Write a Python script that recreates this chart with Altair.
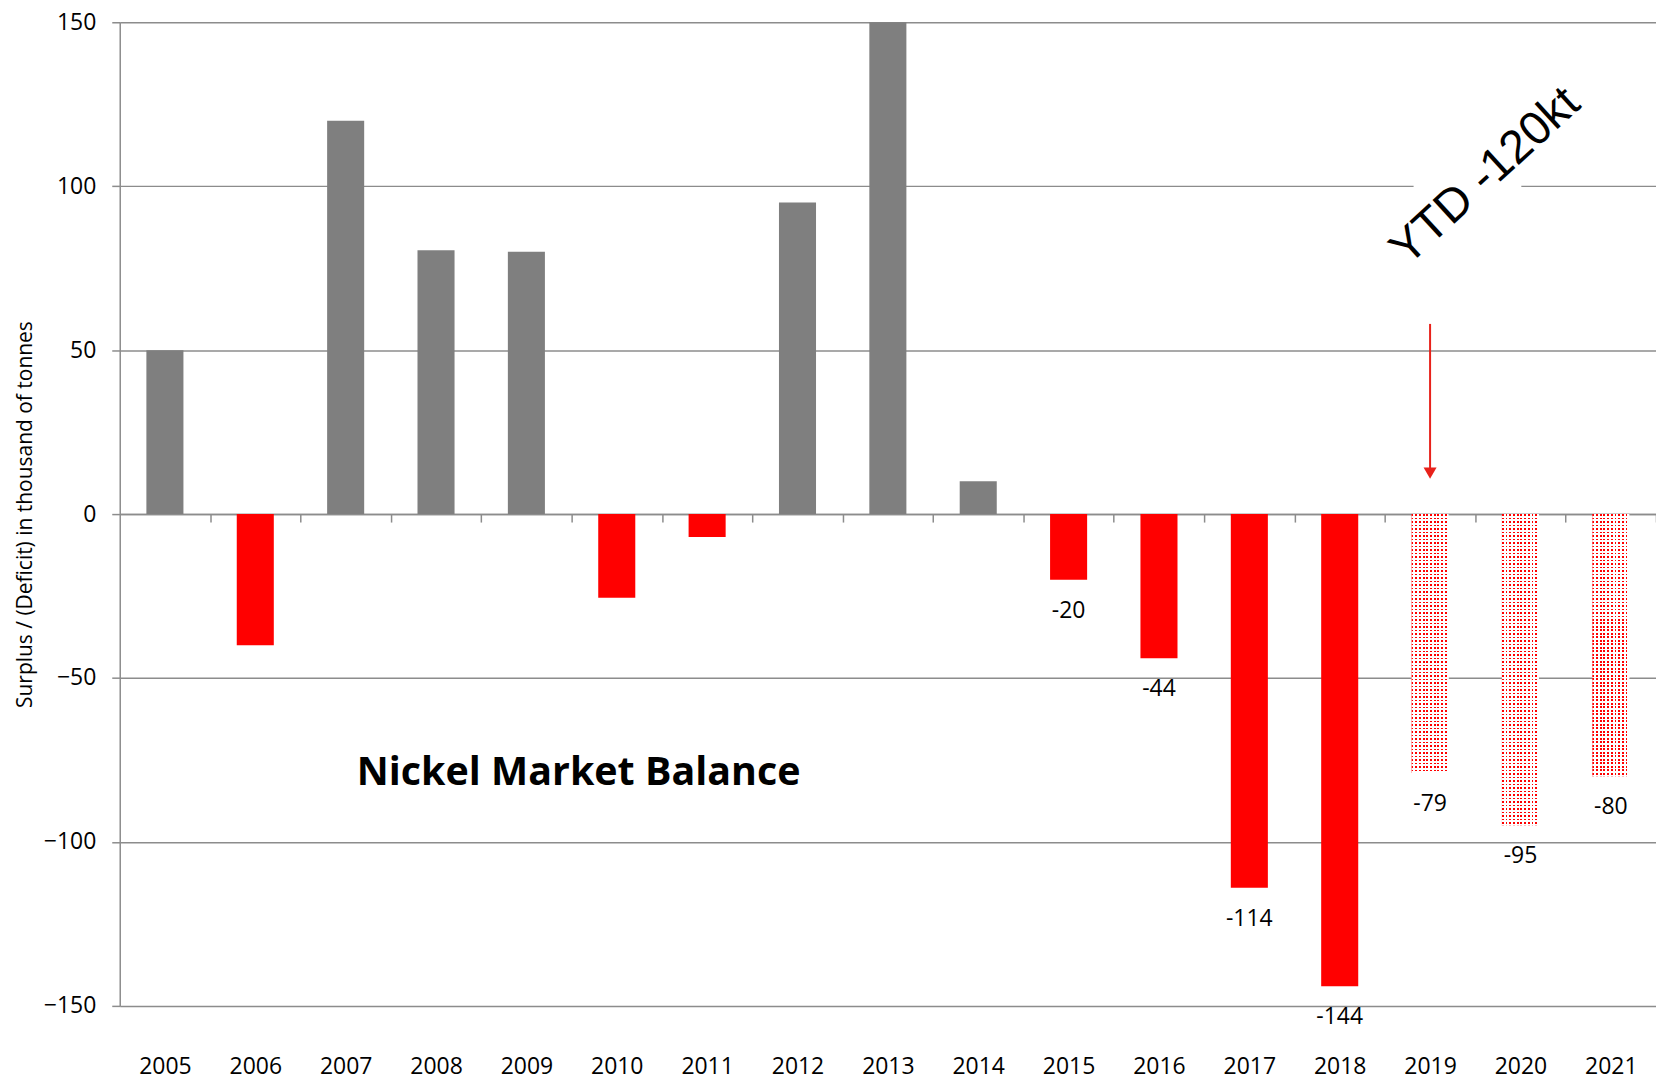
import altair as alt
import pandas as pd

years = [str(y) for y in range(2005, 2022)]
values = [50, -40, 120, 80.5, 80, -25.5, -7, 95, 150, 10, -20, -44, -114, -144, -79, -95, -80]
kinds = ["surplus", "deficit", "surplus", "surplus", "surplus", "deficit", "deficit",
         "surplus", "surplus", "surplus", "deficit", "deficit", "deficit", "deficit",
         "forecast", "forecast", "forecast"]
labels = ["", "", "", "", "", "", "", "", "", "", "-20", "-44", "-114", "-144", "-79", "-95", "-80"]
y_ticks = [-150, -100, -50, 0, 50, 100, 150]

title_text = "Nickel Market Balance"
ytd_text = "YTD -120kt"
y_title = "Surplus / (Deficit) in thousand of tonnes"

W, H = 1540, 986
STEP = W / len(years)
GRID = "#8c8c8c"
RED = "#ff0000"
FONT = "Open Sans"

df = pd.DataFrame({"year": years, "value": values, "kind": kinds, "label": labels})

x_enc = alt.X(
    "year:N", sort=years, title=None,
    scale=alt.Scale(paddingInner=0.59, paddingOuter=0.295),
    axis=alt.Axis(orient="bottom", offset=-H / 2, domainColor=GRID, domainWidth=1.5,
                  tickColor=GRID, tickWidth=1.5, tickSize=8, tickOffset=STEP / 2,
                  labelOffset=-STEP / 2,
                  labelPadding=535, labelFont=FONT, labelFontSize=23, labelColor="black",
                  labelAngle=0, grid=False),
)
y_enc = alt.Y(
    "value:Q", title=y_title,
    scale=alt.Scale(domain=[-150, 150], nice=False, zero=False),
    axis=alt.Axis(values=y_ticks, grid=True, gridColor=GRID, gridWidth=1.5,
                  domainColor=GRID, domainWidth=1.5, tickColor=GRID, tickWidth=1.5,
                  tickSize=8, labelPadding=16, labelFont=FONT, labelFontSize=23,
                  labelColor="black", titleFont=FONT, titleFontSize=21,
                  titleFontWeight="normal", titleColor="black", titleAngle=270,
                  titleX=-94, titleY=H / 2, titleAlign="center", titleBaseline="middle"),
)


def stripes(n, ca, cb, frac, horizontal_bands):
    stops = []
    for i in range(n):
        a = i / n
        m = (i + frac) / n
        b = (i + 1) / n
        stops += [alt.GradientStop(color=ca, offset=a), alt.GradientStop(color=ca, offset=m),
                  alt.GradientStop(color=cb, offset=m), alt.GradientStop(color=cb, offset=b)]
    if horizontal_bands:
        return alt.LinearGradient(gradient="linear", stops=stops, x1=0, x2=0, y1=0, y2=1)
    return alt.LinearGradient(gradient="linear", stops=stops, x1=0, x2=1, y1=0, y2=0)


solid = alt.Chart(df).transform_filter(alt.datum.kind != "forecast").mark_bar().encode(
    x=x_enc, y=y_enc, y2=alt.Y2(datum=0),
    color=alt.Color("kind:N", scale=alt.Scale(domain=["surplus", "deficit"], range=["#7f7f7f", RED]), legend=None),
)

cols = alt.Chart(df).transform_filter(alt.datum.kind == "forecast").mark_bar(
    color=stripes(10, RED, "#ffffff", 0.5, False)
).encode(x=x_enc, y=y_enc, y2=alt.Y2(datum=0))

layers = [solid, cols]
for yr, v, k in zip(years, values, kinds):
    if k == "forecast":
        n = max(1, round(abs(v) * (H / 300) / 3.5))
        layers.append(
            alt.Chart(df).transform_filter(alt.datum.year == yr).mark_bar(
                color=stripes(n, "rgba(255,255,255,0)", "#ffffff", 0.5, True)
            ).encode(x=x_enc, y=y_enc, y2=alt.Y2(datum=0))
        )

value_labels = alt.Chart(df).transform_filter(alt.datum.label != "").mark_text(
    font=FONT, fontSize=23, color="black", baseline="middle", dy=31
).encode(x=x_enc, y=y_enc, text="label:N")

ann_df = pd.DataFrame({"year": ["2019"], "y1": [58], "y2": [14], "tip": [12.5]})
arrow_line = alt.Chart(ann_df).mark_rule(color="#e8211a", strokeWidth=2).encode(
    x=x_enc, y=alt.Y("y1:Q"), y2="y2:Q")
arrow_head = alt.Chart(ann_df).mark_point(shape="triangle-down", filled=True, size=170,
                                          color="#e8211a", opacity=1).encode(x=x_enc, y=alt.Y("tip:Q"))

gap = alt.Chart(pd.DataFrame({"a": [0]})).mark_rule(color="white", strokeWidth=5).encode(
    x=alt.value(1297), x2=alt.value(1405), y=alt.YDatum(100))

ytd = alt.Chart(pd.DataFrame({"t": [ytd_text]})).mark_text(
    font="Liberation Sans", fontSize=47, angle=317.5, color="black", align="center", baseline="middle"
).encode(x=alt.value(1369), y=alt.YDatum(103), text="t:N")

ttl = alt.Chart(pd.DataFrame({"t": [title_text]})).mark_text(
    font=FONT, fontSize=39.5, fontWeight="bold", color="black", align="center", baseline="middle"
).encode(x=alt.value(460), y=alt.YDatum(-79), text="t:N")

chart = alt.layer(*layers, value_labels, gap, ytd, arrow_line, arrow_head, ttl).properties(
    width=W, height=H,
    autosize=alt.AutoSizeParams(type="none"),
    padding={"left": 112, "top": 13, "right": 0, "bottom": 80},
).configure_view(stroke=None)

chart.save("out.html", embed_options={"renderer": "svg", "actions": False})
